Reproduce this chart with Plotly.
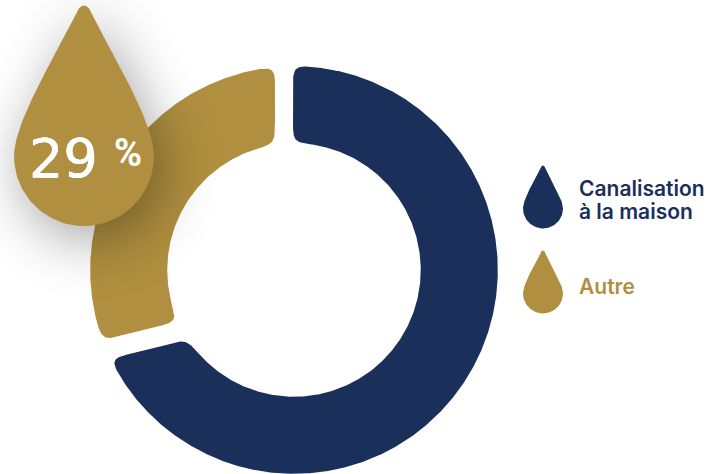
import numpy as np
import plotly.graph_objects as go

# Survey shares, in percent
categories = ["Canalisation à la maison", "Autre"]
shares = [71, 29]
legend_labels = ["Canalisation<br>à la maison", "Autre"]
highlight_label = "29"
highlight_unit = "%"

NAVY = "#1b2f5b"
GOLD = "#b09040"
OUTER, INNER = 204.0, 127.0


def on_circle(theta, offset, radius):
    """Point on a circle where a line parallel to direction theta, shifted by offset, meets it."""
    u = np.array([np.sin(theta), np.cos(theta)])
    n = np.array([np.cos(theta), -np.sin(theta)])
    return offset * n + np.sqrt(radius**2 - offset**2) * u


def arc(p, q, radius, n=200):
    """Clockwise arc between two points of a circle centred on the origin."""
    a = np.arctan2(p[0], p[1])
    b = np.arctan2(q[0], q[1])
    while b < a:
        b += 2 * np.pi
    t = np.linspace(a, b, n)
    return np.column_stack([radius * np.sin(t), radius * np.cos(t)])


def round_corners(points, window=19, passes=2):
    """Resample a closed outline evenly, then soften its corners with a running mean."""
    closed = np.vstack([points, points[:1]])
    steps = np.hypot(*np.diff(closed, axis=0).T)
    dist = np.r_[0, np.cumsum(steps)]
    s = np.arange(0, dist[-1], 1.0)
    x, y = np.interp(s, dist, closed[:, 0]), np.interp(s, dist, closed[:, 1])
    kernel = np.ones(window) / window
    for _ in range(passes):
        x = np.convolve(np.r_[x[-window:], x, x[:window]], kernel, "same")[window:-window]
        y = np.convolve(np.r_[y[-window:], y, y[:window]], kernel, "same")[window:-window]
    return np.r_[x, x[0]], np.r_[y, y[0]]


def ring_segment(start, start_off, end, end_off):
    a_out, b_out = on_circle(start, start_off, OUTER), on_circle(end, end_off, OUTER)
    a_in, b_in = on_circle(start, start_off, INNER), on_circle(end, end_off, INNER)
    return round_corners(np.vstack([arc(a_out, b_out, OUTER), arc(a_in, b_in, INNER)[::-1]]))


def drop(cx, cy, r):
    """Teardrop outline: a circle of radius r whose top tapers to a rounded tip."""
    t = np.linspace(0, 1, 60)[:, None]
    p0, p1, p2, p3 = map(np.array, [(0.07, 2.11), (0.36, 1.52), (1.0, 0.5), (1.0, 0.0)])
    side = (1 - t) ** 3 * p0 + 3 * (1 - t) ** 2 * t * p1 + 3 * (1 - t) * t**2 * p2 + t**3 * p3
    a = np.linspace(0, np.pi, 80)
    belly = np.column_stack([np.cos(a), -np.sin(a)])
    b = np.linspace(0.5, np.pi - 0.5, 12)
    tip = np.column_stack([0.08 * np.cos(b), 2.07 + 0.08 * np.sin(b)])
    outline = np.vstack([side, belly, side[::-1] * [-1, 1], tip])
    return cx + r * outline[:, 0], cy + r * outline[:, 1]


# Divider directions follow from the shares, clockwise from twelve o'clock
divider = 2 * np.pi * shares[0] / sum(shares)
blue_x, blue_y = ring_segment(0.0, -1.0, divider, -40.3)
gold_x, gold_y = ring_segment(divider, -20.8, 2 * np.pi, -19.0)

# The plot area is centred on the ring; one axis unit is one screen pixel
CX, CY = 294, 270


def at(px, py):
    return px - CX, CY - py


fig = go.Figure()
for xs, ys, colour, name in [
    (blue_x, blue_y, NAVY, categories[0]),
    (gold_x, gold_y, GOLD, categories[1]),
    (*drop(*at(84, 156), 70), GOLD, "highlight"),
    (*drop(*at(543, 208.5), 20), NAVY, "key " + categories[0]),
    (*drop(*at(543, 293.5), 20), GOLD, "key " + categories[1]),
]:
    fig.add_trace(go.Scatter(x=xs, y=ys, mode="lines", fill="toself", fillcolor=colour,
                             line=dict(width=0), name=name, hoverinfo="skip", showlegend=False))


def label(px, py, text, font, size, colour, weight=400, shadow=None):
    x, y = at(px, py)
    style = dict(family=font, size=size, color=colour, weight=weight)
    if shadow:
        style["shadow"] = shadow
    fig.add_annotation(x=x, y=y, text=text, showarrow=False, align="left", xanchor="left",
                       yanchor="middle", xref="x", yref="y", font=style)


label(27, 158, highlight_label, "DejaVu Sans", 54, "white",
      shadow="0.35px 0 0 white, -0.35px 0 0 white")
label(112, 153, highlight_unit, "Roboto", 38, "white", 700)
label(577, 202, legend_labels[0], "Inter", 21, NAVY, 600)
label(577, 286, legend_labels[1], "Inter", 21, GOLD, 600)

fig.update_layout(
    width=708, height=474, autosize=False,
    margin=dict(l=0, r=0, t=0, b=0),
    paper_bgcolor="white", plot_bgcolor="white", showlegend=False,
    xaxis=dict(range=[-CX, 708 - CX], visible=False, fixedrange=True),
    yaxis=dict(range=[CY - 474, CY], visible=False, fixedrange=True),
)

# Soft shadow under the large drop, and tighter leading for the two-line key label
page_script = """
document.querySelectorAll('.scatterlayer .trace')[2].style.filter =
    'drop-shadow(8px 14px 28px rgba(0,0,0,0.36))';
document.querySelectorAll('.annotation-text').forEach(function (t) {
    var lines = t.querySelectorAll('tspan.line');
    if (lines.length === 2) { lines[1].setAttribute('dy', '1.09em'); }
});
"""
fig.write_html("out.html", post_script=page_script, config={"displayModeBar": False})
